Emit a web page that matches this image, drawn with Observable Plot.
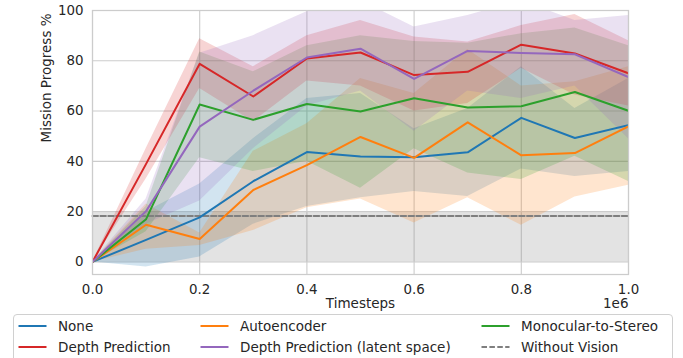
<!DOCTYPE html>
<html>
<head>
<meta charset="utf-8">
<script src="https://cdn.jsdelivr.net/npm/d3@7"></script>
<script src="https://cdn.jsdelivr.net/npm/@observablehq/plot@0.6"></script>
<style>
  html, body { margin: 0; padding: 0; background: #fff; overflow: hidden; }
  #wrap { position: relative; width: 683px; height: 358px; font-family: "DejaVu Sans", sans-serif; color: #262626; }
  #chart { position: absolute; left: 0; top: 0; }
  #legend { position: absolute; left: 13px; top: 314px; width: 660px; height: 56px; border: 1px solid #d0d0d0; border-radius: 4px; background: #fff; box-sizing: border-box; }
  .item { position: absolute; font-size: 13.5px; line-height: 16px; white-space: nowrap; }
  .item svg { position: absolute; top: 0; }
  .item span { position: absolute; top: 0; }
</style>
</head>
<body>
<div id="wrap">
  <div id="chart"></div>
  <div id="legend"></div>
</div>
<script>
// ---- data ----
const steps = [0, 100000, 200000, 300000, 400000, 500000, 600000, 700000, 800000, 900000, 1000000];

const seriesNames = ["None", "Autoencoder", "Monocular-to-Stereo", "Depth Prediction", "Depth Prediction (latent space)"];
const seriesColors = ["#1f77b4", "#ff7f0e", "#2ca02c", "#d62728", "#9467bd"];

const noneMean = [0, 8.8, 17.7, 32.1, 43.7, 41.9, 41.6, 43.6, 57.3, 49.3, 54.4];
const noneLow  = [0, -2, 2, 15, 22, 25.5, 28, 26, 37, 34, 36];
const noneHigh = [0, 20, 31, 49, 65, 67, 53, 61, 77.6, 61, 73];

const autoMean = [0, 14.8, 9.1, 28.6, 38.5, 49.7, 41.4, 55.5, 42.4, 43.3, 53.9];
const autoLow  = [0, 5, 6.5, 12.5, 21.5, 25, 15.5, 25.5, 14.6, 25.8, 30.5];
const autoHigh = [0, 23, 11.5, 44, 55, 73, 67, 84.5, 70, 71.7, 77.6];

const monoMean = [0, 17.0, 62.6, 56.5, 62.8, 59.8, 65.1, 61.4, 61.9, 67.6, 60.1];
const monoLow  = [0, 12, 41.4, 36, 40, 29.3, 45, 35.4, 32.8, 42, 32];
const monoHigh = [0, 22, 83.5, 75.6, 86, 90, 87.7, 87, 90.8, 93, 86];

const depthMean = [0, 39.0, 78.8, 65.8, 80.9, 83.3, 74.3, 75.6, 86.4, 82.9, 75.0];
const depthLow  = [0, 33, 69, 55.8, 72, 70, 60, 63, 77, 66.4, 62];
const depthHigh = [0, 45, 88.8, 77.6, 90, 96, 89.5, 87.5, 94, 98.4, 88];

const latentMean = [0, 20.2, 53.8, 68.1, 81.3, 84.8, 72.8, 83.9, 83.1, 82.6, 73.5];
const latentLow  = [0, 15, 24.2, 45, 62, 68, 52, 68, 65, 70, 49];
const latentHigh = [0, 25, 83, 90, 99.5, 104, 93.4, 98, 104, 96, 98];

const withoutVisionName = "Without Vision";
const withoutVisionMean = 18.3;
const withoutVisionLow = 0;
const withoutVisionHigh = 19.6;

const xTicks = [0, 200000, 400000, 600000, 800000, 1000000];
const yTicks = [0, 20, 40, 60, 80, 100];

// ---- build table ----
const means = [noneMean, autoMean, monoMean, depthMean, latentMean];
const lows = [noneLow, autoLow, monoLow, depthLow, latentLow];
const highs = [noneHigh, autoHigh, monoHigh, depthHigh, latentHigh];
const rows = [];
seriesNames.forEach((name, s) => {
  steps.forEach((t, i) => {
    rows.push({series: name, step: t, mean: means[s][i], low: lows[s][i], high: highs[s][i]});
  });
});
const wvRows = [steps[0], steps[steps.length - 1]].map(t => ({step: t, mean: withoutVisionMean, low: withoutVisionLow, high: withoutVisionHigh}));

const font = "DejaVu Sans";
const plot = Plot.plot({
  width: 683,
  height: 312,
  marginLeft: 92,
  marginRight: 55,
  marginTop: 10,
  marginBottom: 38,
  style: {fontFamily: font, fontSize: "13.4px", color: "#262626", background: "#fff"},
  x: {domain: [0, 1000000]},
  y: {domain: [-5, 100]},
  color: {domain: seriesNames, range: seriesColors},
  marks: [
    Plot.gridY(yTicks, {stroke: "#cccccc", strokeOpacity: 1, strokeWidth: 1.1}),
    Plot.gridX(xTicks, {stroke: "#cccccc", strokeOpacity: 1, strokeWidth: 1.1}),
    Plot.areaY(wvRows, {x: "step", y1: "low", y2: "high", fill: "#7f7f7f", fillOpacity: 0.22}),
    Plot.areaY(rows, {x: "step", y1: "low", y2: "high", z: "series", fill: "series", fillOpacity: 0.2, clip: true}),
    Plot.lineY(wvRows, {x: "step", y: "mean", stroke: "#7f7f7f", strokeWidth: 2, strokeDasharray: "5.5,2.4"}),
    Plot.lineY(rows, {x: "step", y: "mean", z: "series", stroke: "series", strokeWidth: 2, clip: true}),
    Plot.frame({stroke: "#cccccc", strokeWidth: 1.25}),
    Plot.axisX(xTicks, {tickSize: 0, tickPadding: 10, tickFormat: d => (d / 1e6).toFixed(1), label: null, fontSize: 13.4}),
    Plot.axisY(yTicks, {tickSize: 0, tickPadding: 9, label: null, fontSize: 13.4}),
    Plot.text(["Mission Progress %"], {frameAnchor: "left", dx: -46, rotate: -90, fontSize: 13.5, fill: "#262626"}),
    Plot.text(["Timesteps"], {frameAnchor: "bottom", dy: 33.5, fontSize: 13.5, fill: "#262626"}),
    Plot.text(["1e6"], {frameAnchor: "bottom-right", dy: 33.5, textAnchor: "end", fontSize: 13.5, fill: "#262626"})
  ]
});
document.getElementById("chart").appendChild(plot);

// ---- legend ----
const legendItems = [
  {name: seriesNames[0], color: seriesColors[0], dash: null, col: 0, row: 0},
  {name: seriesNames[3], color: seriesColors[3], dash: null, col: 0, row: 1},
  {name: seriesNames[1], color: seriesColors[1], dash: null, col: 1, row: 0},
  {name: seriesNames[4], color: seriesColors[4], dash: null, col: 1, row: 1},
  {name: seriesNames[2], color: seriesColors[2], dash: null, col: 2, row: 0},
  {name: withoutVisionName, color: "#7f7f7f", dash: "5.5,2.4", col: 2, row: 1}
];
const colX = [4, 186, 467];   // swatch left, relative to legend box
const rowY = [3, 23.5];       // item top
const legend = document.getElementById("legend");
legendItems.forEach(it => {
  const d = document.createElement("div");
  d.className = "item";
  d.style.left = colX[it.col] + "px";
  d.style.top = rowY[it.row] + "px";
  const sw = `<svg width="29" height="16"><line x1="0.5" x2="28.5" y1="8" y2="8" stroke="${it.color}" stroke-width="2" ${it.dash ? `stroke-dasharray="${it.dash}"` : ""}/></svg>`;
  d.innerHTML = sw + `<span style="left:40px">${it.name}</span>`;
  legend.appendChild(d);
});
</script>
</body>
</html>
